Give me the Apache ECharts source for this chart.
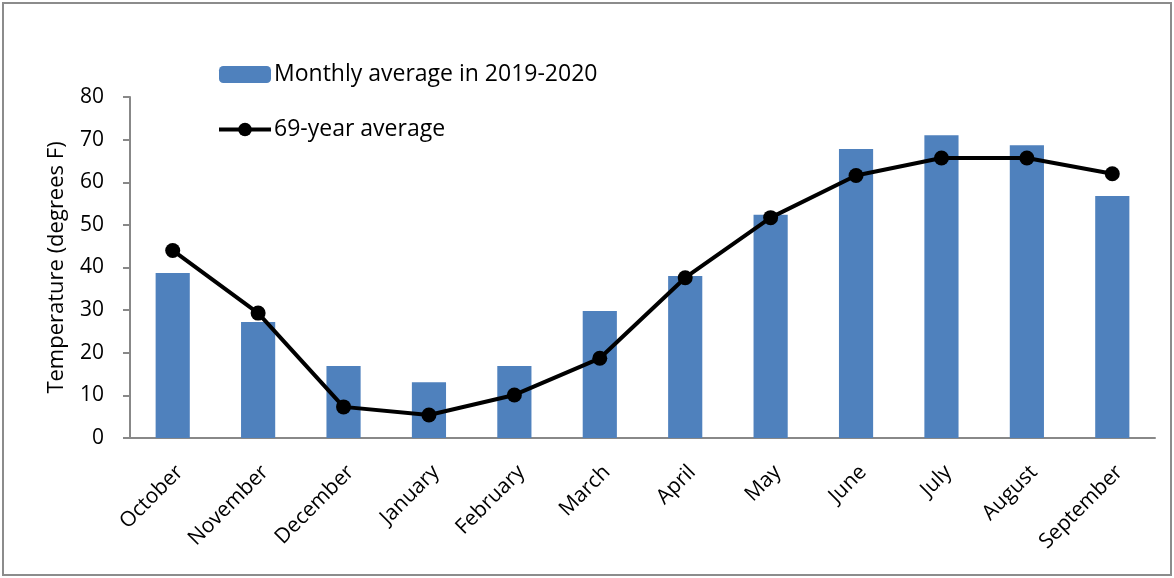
<!DOCTYPE html>
<html><head><meta charset="utf-8">
<script src="https://cdn.jsdelivr.net/npm/echarts@6/dist/echarts.min.js"></script>
<style>html,body{margin:0;padding:0;background:#fff}#c{width:1174px;height:578px;}</style>
</head><body><div id="c"></div>
<script>
var months = ["October","November","December","January","February","March","April","May","June","July","August","September"];
var monthly2019_2020 = [38.7, 27.2, 16.9, 13.1, 16.9, 29.8, 38.0, 52.4, 67.8, 71.0, 68.7, 56.8];
var avg69 = [44.0, 29.3, 7.3, 5.4, 10.1, 18.7, 37.6, 51.7, 61.6, 65.7, 65.7, 62.0];
var yTicks = {min: 0, max: 80, interval: 10};

var chart = echarts.init(document.getElementById('c'));
var font = "'Open Sans', 'Liberation Sans', sans-serif";
chart.setOption({
  animation: false,
  graphic: [{type:'rect', shape:{x:3,y:3,width:1168,height:572}, style:{fill:'none', stroke:'#8c8c8c', lineWidth:2}}],
  legend: {
    orient: 'vertical', left: 212, top: 58, itemWidth: 52, itemHeight: 17, itemGap: 32,
    textStyle: {fontFamily: font, fontSize: 23, color: '#000', padding: [0,0,0,-2]},
    data: [
      {name: 'Monthly average in 2019-2020'},
      {name: '69-year average', lineStyle: {width: 4, color: '#000'}}
    ]
  },
  grid: {left: 130, right: 19, top: 97, bottom: 140},
  xAxis: {
    type: 'category', data: months,
    axisLine: {lineStyle: {color: '#888', width: 2}},
    axisTick: {show: false},
    axisLabel: {rotate: 45, margin: 38, padding: [0,-10,0,0], fontFamily: font, fontSize: 21, color: '#000', interval: 0}
  },
  yAxis: {
    type: 'value', min: yTicks.min, max: yTicks.max, interval: yTicks.interval,
    name: 'Temperature (degrees F)', nameLocation: 'middle', nameGap: 62,
    nameTextStyle: {fontFamily: font, fontSize: 22, color: '#000'},
    axisLine: {show: true, lineStyle: {color: '#888', width: 2}},
    axisTick: {show: true, length: 7, lineStyle: {color: '#888', width: 2}},
    splitLine: {show: false},
    axisLabel: {fontFamily: font, fontSize: 21, color: '#000', margin: 26}
  },
  series: [
    {name: 'Monthly average in 2019-2020', type: 'bar', data: monthly2019_2020,
     barWidth: '40%', itemStyle: {color: '#4F81BD'}},
    {name: '69-year average', type: 'line', data: avg69,
     symbol: 'circle', symbolSize: 15, lineStyle: {color: '#000', width: 4},
     itemStyle: {color: '#000'}}
  ]
});
</script></body></html>
